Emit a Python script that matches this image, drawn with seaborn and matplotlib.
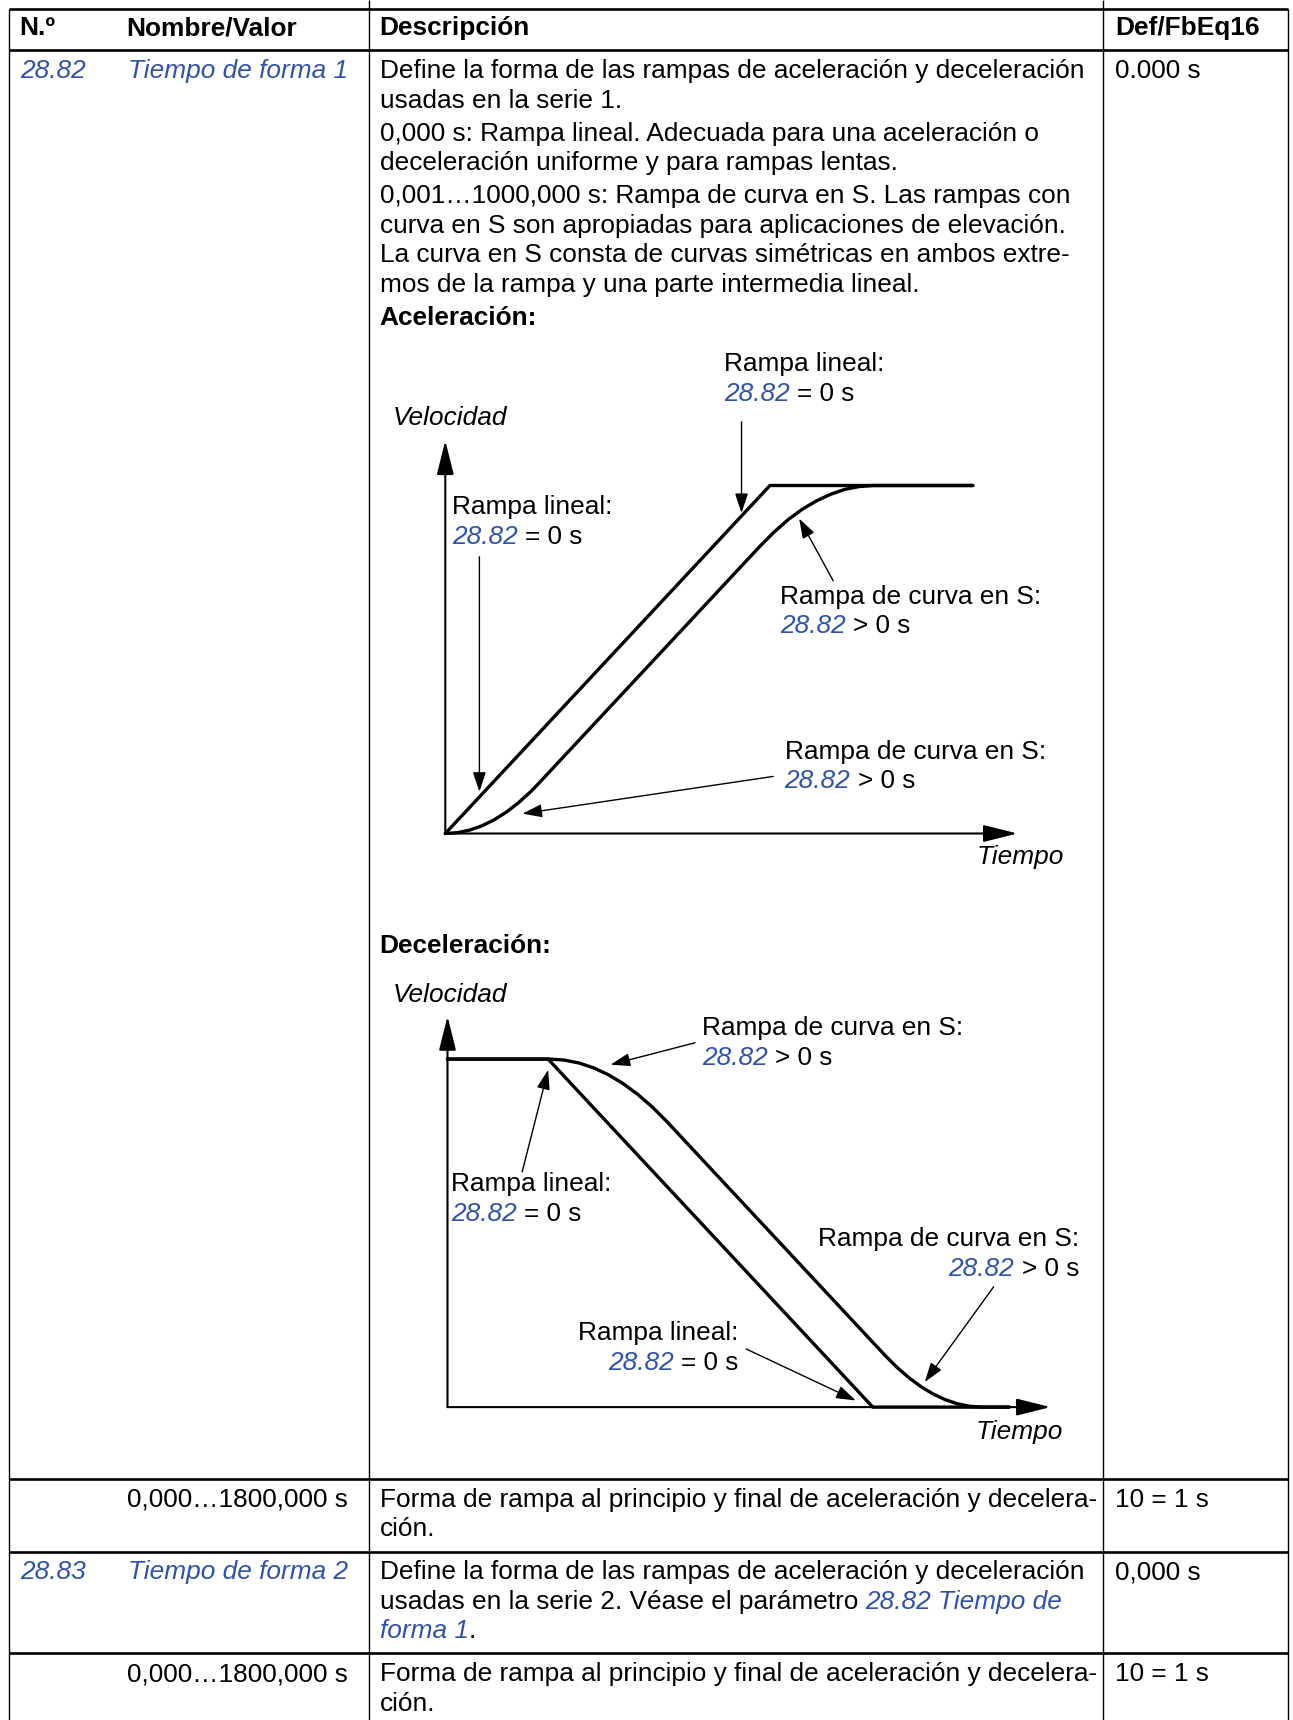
import matplotlib
matplotlib.use("Agg")
import matplotlib.pyplot as plt
from matplotlib.transforms import offset_copy
import seaborn as sns

sns.set_theme(style="white")
plt.rcParams["font.family"] = ["Liberation Sans", "DejaVu Sans"]

# ---------------- data ----------------
header = ["N.º", "Nombre/Valor", "Descripción", "Def/FbEq16"]
param_ids = ["28.82", "28.83"]
param_names = ["Tiempo de forma 1", "Tiempo de forma 2"]
param_defaults = ["0.000 s", "0,000 s"]
value_range = "0,000…1800,000 s"
range_desc = ["Forma de rampa al principio y final de aceleración y decelera-", "ción."]
range_fbeq = "10 = 1 s"
desc_2882 = [
    "Define la forma de las rampas de aceleración y deceleración",
    "usadas en la serie 1.",
    "0,000 s: Rampa lineal. Adecuada para una aceleración o",
    "deceleración uniforme y para rampas lentas.",
    "0,001…1000,000 s: Rampa de curva en S. Las rampas con",
    "curva en S son apropiadas para aplicaciones de elevación.",
    "La curva en S consta de curvas simétricas en ambos extre-",
    "mos de la rampa y una parte intermedia lineal.",
]

# acceleration diagram (time in arbitrary units, speed in % of max)
acc_lin_t = [0.0, 4.0, 6.5]
acc_lin_v = [0, 100, 100]
acc_s_t = [0, 0.15, 0.3, 0.45, 0.6, 0.75, 0.9, 1.05, 1.15, 3.875, 4.05, 4.225,
           4.4, 4.575, 4.75, 4.925, 5.1, 5.275, 6.5]
acc_s_v = [0, 0.24, 0.98, 2.20, 3.91, 6.11, 8.80, 11.98, 14.38, 82.5, 86.6, 90.2,
           93.2, 95.6, 97.5, 98.9, 99.7, 100, 100]

# deceleration diagram
dec_lin_t = [0.0, 1.24, 5.24, 6.92]
dec_lin_v = [100, 100, 0, 0]
dec_s_t = [0, 1.26, 1.44, 1.62, 1.80, 1.98, 2.16, 2.34, 2.52, 2.71, 5.385, 5.535,
           5.685, 5.835, 5.985, 6.135, 6.285, 6.435, 6.585, 6.92]
dec_s_v = [100, 100, 99.72, 98.88, 97.49, 95.53, 93.02, 89.94, 86.31, 81.87, 15.0,
           11.49, 8.44, 5.86, 3.75, 2.11, 0.94, 0.23, 0, 0]

# ---------------- layout ----------------
W, H = 1293, 1720
FS = 18.9
BLUE = "#3153a6"
PLAIN = {}
BOLD = {"fontweight": "bold"}
ITAL = {"fontstyle": "italic"}
BLUE_IT = {"fontstyle": "italic", "color": BLUE}

fig = plt.figure(figsize=(W / 100, H / 100), dpi=100)
fig.patch.set_facecolor("white")
renderer = fig.canvas.get_renderer()

ax0 = fig.add_axes([0, 0, 1, 1])
ax0.set_xlim(0, W)
ax0.set_ylim(H, 0)
ax0.axis("off")


def space_width(ax):
    a = ax.text(0, 0, "x x", fontsize=FS)
    b = ax.text(0, 0, "xx", fontsize=FS)
    w = a.get_window_extent(renderer).width - b.get_window_extent(renderer).width
    a.remove()
    b.remove()
    return w


SPW = space_width(ax0)


def runs(ax, x, y, parts, ha="left"):
    # draw text made of differently styled pieces one after another
    made, gaps = [], []
    for s, st in parts:
        gaps.append(SPW if s.startswith(" ") else 0)
        t = ax.text(x, y, s.strip(), fontsize=FS, va="baseline", color=st.get("color", "black"),
                    fontstyle=st.get("fontstyle", "normal"), fontweight=st.get("fontweight", "normal"))
        made.append(t)
    widths = [t.get_window_extent(renderer).width for t in made]
    total = sum(widths) + sum(gaps)
    off = -total if ha == "right" else 0
    for t, w, g in zip(made, widths, gaps):
        off += g
        t.set_transform(offset_copy(ax.transData, fig=fig, x=off, y=0, units="dots"))
        off += w


# table grid
row_lines = [9, 50.4, 1479.4, 1551.8, 1652.7]
col_lines = [8.8, 368.5, 1103.3, 1287.5]
ax0.hlines(row_lines, col_lines[0], col_lines[-1], color="black", lw=1.9)
ax0.vlines(col_lines, [9, 0, 0, 9], H, color="black", lw=1.0)

# header
col_x = [19.7, 126.1, 379.5, 1115.3]
for cx, txt in zip(col_x, header):
    runs(ax0, cx, 35.1, [(txt, BOLD)])

# parameter 28.82
runs(ax0, 19.7, 77.9, [(param_ids[0], BLUE_IT)])
runs(ax0, 128.3, 77.9, [(param_names[0], BLUE_IT)])
runs(ax0, 1115.3, 77.9, [(param_defaults[0], PLAIN)])
desc_y = [77.9, 107.5, 141.5, 169.9, 202.9, 232.5, 262.1, 291.7]
for yy, line in zip(desc_y, desc_2882):
    runs(ax0, 379.5, yy, [(line, PLAIN)])
runs(ax0, 379.5, 324.6, [("Aceleración:", BOLD)])
runs(ax0, 379.5, 953.0, [("Deceleración:", BOLD)])

# value range rows
for yy in [1506.9, 1681.2]:
    runs(ax0, 347.7, yy, [(value_range, PLAIN)], ha="right")
    runs(ax0, 379.5, yy, [(range_desc[0], PLAIN)])
    runs(ax0, 379.5, yy + 29.6, [(range_desc[1], PLAIN)])
    runs(ax0, 1115.3, yy, [(range_fbeq, PLAIN)])

# parameter 28.83
runs(ax0, 19.7, 1579.2, [(param_ids[1], BLUE_IT)])
runs(ax0, 128.3, 1579.2, [(param_names[1], BLUE_IT)])
runs(ax0, 1115.3, 1579.2, [(param_defaults[1], PLAIN)])
runs(ax0, 379.5, 1579.2, [(desc_2882[0], PLAIN)])
runs(ax0, 379.5, 1608.8, [("usadas en la serie 2. Véase el parámetro", PLAIN),
                          (" " + param_ids[0] + " " + param_names[0][:-8], BLUE_IT)])
runs(ax0, 379.5, 1638.4, [("forma 1", BLUE_IT), (".", PLAIN)])


# diagrams
def diagram_axes(ox, oy):
    sx, sy = 81.16, 3.48
    x0, x1, y0, y1 = -1.2, 8.4, -40, 150
    left, right = ox + x0 * sx, ox + x1 * sx
    top, bottom = oy - y1 * sy, oy - y0 * sy
    ax = fig.add_axes([left / W, 1 - bottom / H, (right - left) / W, (bottom - top) / H])
    ax.set_xlim(x0, x1)
    ax.set_ylim(y0, y1)
    ax.axis("off")
    return ax


def axis_arrow(ax, tip):
    ax.annotate("", xy=tip, xytext=(0, 0),
                arrowprops=dict(arrowstyle="-|>,head_length=1.0,head_width=0.25", mutation_scale=21,
                                lw=1.5, color="black", shrinkA=0, shrinkB=0))


def pointer(ax, tail, tip):
    ax.annotate("", xy=tip, xytext=tail,
                arrowprops=dict(arrowstyle="-|>,head_length=0.6,head_width=0.2", mutation_scale=20,
                                lw=1.0, color="black", shrinkA=0, shrinkB=0))


def ramp_label(ax, x, y, head, op, ha="left"):
    runs(ax, x, y, [(head, PLAIN)], ha=ha)
    runs(ax, x, y - 8.5, [(param_ids[0], BLUE_IT), (" " + op, PLAIN)], ha=ha)


ax1 = diagram_axes(445.3, 833.5)
axis_arrow(ax1, (0, 112.9))
axis_arrow(ax1, (7.05, 0))
sns.lineplot(x=acc_lin_t, y=acc_lin_v, ax=ax1, color="black", lw=2.4, sort=False, estimator=None)
sns.lineplot(x=acc_s_t, y=acc_s_v, ax=ax1, color="black", lw=2.4, sort=False, estimator=None)
runs(ax1, -0.65, 117.4, [("Velocidad", ITAL)])
runs(ax1, 7.62, -8.8, [("Tiempo", ITAL)], ha="right")
ramp_label(ax1, 3.43, 132.8, "Rampa lineal:", "= 0 s")
pointer(ax1, (3.65, 118.3), (3.65, 92.1))
ramp_label(ax1, 0.08, 91.8, "Rampa lineal:", "= 0 s")
pointer(ax1, (0.42, 79.5), (0.42, 12.0))
ramp_label(ax1, 4.12, 66.0, "Rampa de curva en S:", "> 0 s")
pointer(ax1, (4.78, 72.6), (4.36, 90.5))
ramp_label(ax1, 4.18, 21.5, "Rampa de curva en S:", "> 0 s")
pointer(ax1, (4.04, 16.4), (0.95, 5.7))

ax2 = diagram_axes(447.5, 1407.1)
axis_arrow(ax2, (0, 112.3))
axis_arrow(ax2, (7.43, 0))
sns.lineplot(x=dec_lin_t, y=dec_lin_v, ax=ax2, color="black", lw=2.4, sort=False, estimator=None)
sns.lineplot(x=dec_s_t, y=dec_s_v, ax=ax2, color="black", lw=2.4, sort=False, estimator=None)
runs(ax2, -0.68, 116.4, [("Velocidad", ITAL)])
runs(ax2, 7.59, -9.1, [("Tiempo", ITAL)], ha="right")
ramp_label(ax2, 3.14, 106.9, "Rampa de curva en S:", "> 0 s")
pointer(ax2, (3.05, 104.7), (2.01, 98.4))
ramp_label(ax2, 0.04, 62.0, "Rampa lineal:", "= 0 s")
pointer(ax2, (0.92, 67.6), (1.24, 96.9))
ramp_label(ax2, 7.78, 46.2, "Rampa de curva en S:", "> 0 s", ha="right")
pointer(ax2, (6.73, 34.6), (5.88, 7.2))
ramp_label(ax2, 3.58, 19.2, "Rampa lineal:", "= 0 s", ha="right")
pointer(ax2, (3.68, 16.7), (5.03, 1.9))

fig.savefig("out.png", dpi=100, facecolor="white")
